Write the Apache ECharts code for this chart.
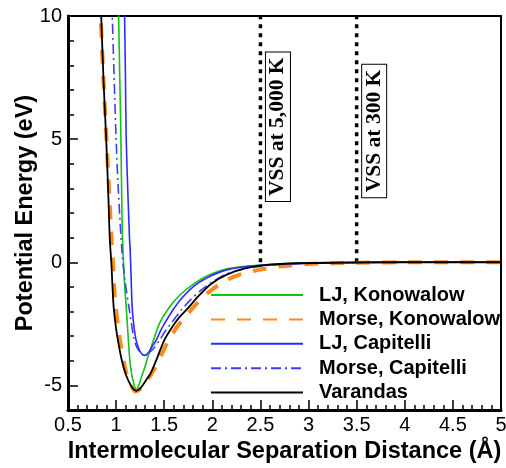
<!DOCTYPE html>
<html><head><meta charset="utf-8">
<script src="https://cdn.jsdelivr.net/npm/echarts@6/dist/echarts.min.js"></script>
<style>html,body{margin:0;padding:0;background:#fff}#c{width:506px;height:468px}</style>
</head><body><div id="c"></div>
<script>
const seriesNames = ['LJ, Konowalow', 'Morse, Konowalow', 'LJ, Capitelli', 'Morse, Capitelli', 'Varandas'];
const ljKonowalow = [[1.018,11.5],[1.026,10],[1.038,7.5],[1.05,5],[1.057,3],[1.063,1.5],[1.071,0.5],[1.08,-0.3],[1.09,-1.0],[1.105,-1.82],[1.12,-2.7],[1.14,-3.85],[1.16,-4.5],[1.185,-4.95],[1.21,-5.15],[1.235,-5.0],[1.26,-4.7],[1.295,-4.3],[1.33,-3.85],[1.39,-3.15],[1.45,-2.49],[1.55,-1.85],[1.66,-1.34],[1.8,-0.9],[1.95,-0.55],[2.16,-0.26],[2.47,-0.12],[2.8,-0.05],[3.3,-0.02],[4,0],[5,0]];
const morseKonowalow = [[0.825,11.8],[0.84,10],[0.87,7.3],[0.9,5],[0.93,2.7],[0.95,1.1],[0.967,0],[0.99,-1.6],[1.02,-2.6],[1.05,-3.4],[1.1,-4.4],[1.15,-4.95],[1.2,-5.25],[1.25,-5.15],[1.3,-4.92],[1.38,-4.45],[1.46,-3.85],[1.54,-3.2],[1.62,-2.7],[1.72,-2.2],[1.8,-1.85],[1.88,-1.5],[2.0,-1.1],[2.16,-0.7],[2.3,-0.48],[2.47,-0.32],[2.7,-0.17],[3.0,-0.07],[3.5,-0.02],[4,0],[5,0]];
const ljCapitelli = [[1.08,11.5],[1.088,10],[1.097,7.5],[1.105,5],[1.125,2.5],[1.14,0.9],[1.146,0.5],[1.155,-0.5],[1.167,-1.82],[1.185,-2.6],[1.208,-3.17],[1.235,-3.5],[1.265,-3.72],[1.296,-3.78],[1.33,-3.7],[1.37,-3.45],[1.416,-3.17],[1.46,-2.8],[1.503,-2.49],[1.58,-2.0],[1.66,-1.56],[1.8,-1.0],[1.95,-0.62],[2.16,-0.3],[2.47,-0.13],[2.8,-0.06],[3.3,-0.02],[4,0],[5,0]];
const morseCapitelli = [[0.95,11.3],[0.96,10],[0.98,7.4],[1.0,5],[1.025,2.8],[1.06,0.5],[1.09,-0.7],[1.133,-1.82],[1.19,-3.17],[1.23,-3.55],[1.28,-3.76],[1.33,-3.7],[1.39,-3.5],[1.45,-3.17],[1.51,-2.8],[1.57,-2.49],[1.675,-1.95],[1.78,-1.5],[1.88,-1.14],[2.0,-0.8],[2.16,-0.46],[2.35,-0.26],[2.6,-0.12],[3.0,-0.04],[3.5,-0.01],[4,0],[5,0]];
const varandas = [[0.83,11.6],[0.845,10],[0.87,7.3],[0.897,5],[0.92,2.6],[0.935,0.9],[0.95,0],[0.974,-1.8],[1.0,-2.7],[1.02,-3.2],[1.06,-4.0],[1.105,-4.6],[1.16,-5.05],[1.21,-5.22],[1.26,-5.08],[1.31,-4.8],[1.36,-4.5],[1.43,-3.85],[1.5,-3.17],[1.58,-2.65],[1.66,-2.22],[1.75,-1.85],[1.85,-1.4],[1.99,-0.87],[2.15,-0.5],[2.33,-0.26],[2.55,-0.12],[2.8,-0.05],[3.2,-0.02],[4,0],[5,0]];
const vssX = [2.5, 3.5];
const vssYRange = [0, 10];
const vssText = ['VSS at 5,000 K', 'VSS at 300 K'];
const vssLabelY = [5.5, 5.33];
const yMajorTicks = [-5, 0, 5, 10];

const font = '"Liberation Sans", Arial, sans-serif';
const chart = echarts.init(document.getElementById('c'), null, {renderer: 'canvas'});

const curveStyles = [
  {color: '#14c214', width: 1.6, type: 'solid'},
  {color: '#ff8a1c', width: 4, type: [14, 12]},
  {color: '#2b2bff', width: 1.6, type: 'solid'},
  {color: '#3c3cff', width: 1.6, type: [10, 4, 2, 4]},
  {color: '#000000', width: 1.8, type: 'solid'}
];
const curveData = [ljKonowalow, morseKonowalow, ljCapitelli, morseCapitelli, varandas];

const series = curveData.map((d, i) => ({
  name: seriesNames[i], type: 'line', data: d, symbol: 'none', smooth: 0.3,
  xAxisIndex: 0, yAxisIndex: 0,
  color: curveStyles[i].color,
  lineStyle: curveStyles[i], clip: true, z: 3 + i
}));
vssX.forEach((x, i) => {
  series.push({
    name: 'vss' + i, type: 'line', symbol: 'none', silent: true,
    data: [[x, vssYRange[0]], [x, vssYRange[1]]],
    lineStyle: {color: '#000', width: 3.5, type: [4, 5]}, z: 2
  });
});

chart.setOption({
  animation: false,
  backgroundColor: '#fff',
  grid: [
    {left: 68, right: 5, top: 16, bottom: 58, show: true, borderColor: '#000', borderWidth: 2, containLabel: false, outerBoundsMode: 'none'},
    {left: 68, right: 5, top: 16, bottom: 58, show: false, containLabel: false, outerBoundsMode: 'none'}
  ],
  legend: {
    data: seriesNames, orient: 'vertical', left: 210, top: 285, padding: 0,
    itemWidth: 92, itemHeight: 14, itemGap: 4.4, selectedMode: false,
    itemStyle: {color: 'rgba(0,0,0,0)', borderColor: 'rgba(0,0,0,0)', borderWidth: 0},
    textStyle: {fontSize: 20, fontWeight: 'bold', color: '#000', fontFamily: font, padding: [0, 0, 0, 11]}
  },
  xAxis: [{
    type: 'value', gridIndex: 0, min: 0.5, max: 5, interval: 0.5,
    axisLine: {onZero: false, lineStyle: {color: '#000', width: 3}},
    axisTick: {inside: true, length: 10, lineStyle: {color: '#000', width: 1.5}},
    minorTick: {show: true, splitNumber: 5, length: 5, lineStyle: {color: '#000', width: 1.5}},
    splitLine: {show: false},
    axisLabel: {color: '#000', fontSize: 20, fontFamily: font, margin: 5},
    name: 'Intermolecular Separation Distance (Å)', nameLocation: 'middle', nameGap: 30,
    nameTextStyle: {fontWeight: 'bold', fontSize: 23.5, color: '#000', fontFamily: font}
  }, {
    type: 'value', gridIndex: 1, min: 0.5, max: 5, show: false
  }],
  yAxis: [{
    type: 'value', gridIndex: 0, min: -6, max: 10, interval: 1,
    axisLine: {onZero: false, lineStyle: {color: '#000', width: 3}},
    axisTick: {inside: true, length: 6, lineStyle: {color: '#000', width: 1.5}},
    splitLine: {show: false},
    axisLabel: {color: '#000', fontSize: 20, fontFamily: font, margin: 6,
      formatter: v => (yMajorTicks.indexOf(v) >= 0 ? String(v) : '')},
    name: 'Potential Energy (eV)', nameLocation: 'middle', nameGap: 30, nameMoveOverlap: false,
    nameTextStyle: {fontWeight: 'bold', fontSize: 23.5, color: '#000', fontFamily: font}
  }, {
    type: 'value', gridIndex: 1, min: -6, max: 10, interval: 1,
    axisLine: {show: false, onZero: false}, axisLabel: {show: false}, splitLine: {show: false},
    axisTick: {show: true, inside: true, length: 10, customValues: yMajorTicks, lineStyle: {color: '#000', width: 1.5}}
  }],
  series: series
});

const gfx = vssX.map((x, i) => {
  const p = chart.convertToPixel({gridIndex: 0}, [x, vssLabelY[i]]);
  return {
    type: 'text', x: p[0] + 17.5, y: p[1], rotation: Math.PI / 2, z: 100,
    style: {
      text: vssText[i], font: 'bold 21.5px "Liberation Serif", "Times New Roman", serif',
      fill: '#000', align: 'center', verticalAlign: 'middle',
      backgroundColor: '#fff', borderColor: '#000', borderWidth: 1, padding: [1, 5]
    }
  };
});
chart.setOption({graphic: gfx});
</script>
</body></html>
